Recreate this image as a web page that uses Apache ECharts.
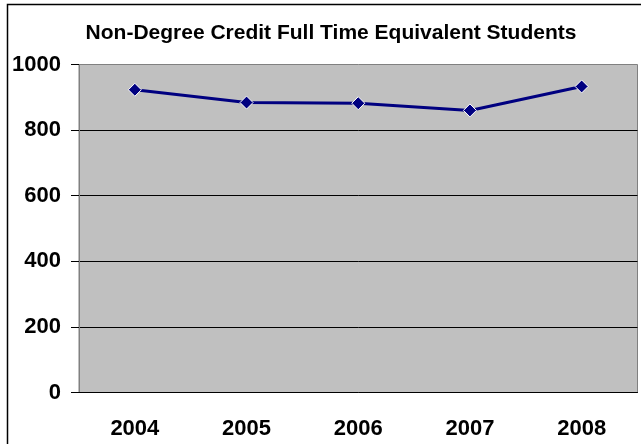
<!DOCTYPE html>
<html>
<head>
    <meta charset="UTF-8">
    <title>Non-Degree Credit FTE</title>
    <script src="https://cdn.jsdelivr.net/npm/echarts@6/dist/echarts.min.js"></script>
    <style>
        html, body { margin: 0; padding: 0; background: #fff; }
        #chart { width: 641px; height: 444px; }
    </style>
</head>
<body>
    <div id="chart"></div>
    <script>
        // data
        const years = ['2004', '2005', '2006', '2007', '2008'];
        const fteStudents = [923, 884, 882, 860, 933];
        const yTicks = [0, 200, 400, 600, 800, 1000];

        const myChart = echarts.init(document.getElementById('chart'));

        const option = {
            backgroundColor: '#ffffff',
            animation: false,
            title: {
                text: 'Non-Degree Credit Full Time Equivalent Students',
                left: 326,
                textAlign: 'center',
                top: 17.5,
                textStyle: {
                    fontFamily: 'Liberation Sans, Arial, sans-serif',
                    fontWeight: 'bold',
                    fontSize: 21,
                    color: '#000'
                }
            },
            graphic: [{
                type: 'rect',
                shape: { x: 7.5, y: 4.5, width: 700, height: 500 },
                style: { fill: 'none', stroke: '#000', lineWidth: 1.5 },
                silent: true
            }],
            grid: {
                left: 79,
                top: 64.5,
                right: 3.5,
                bottom: 51.5,
                show: true,
                backgroundColor: '#c0c0c0',
                borderColor: '#808080',
                borderWidth: 1
            },
            xAxis: {
                type: 'category',
                data: years,
                boundaryGap: true,
                axisLine: { lineStyle: { color: '#000', width: 1 } },
                axisTick: { length: 8, lineStyle: { color: '#000' } },
                axisLabel: {
                    margin: 25,
                    fontFamily: 'Liberation Sans, Arial, sans-serif',
                    fontWeight: 'bold',
                    fontSize: 22,
                    color: '#000'
                }
            },
            yAxis: {
                type: 'value',
                min: yTicks[0],
                max: yTicks[yTicks.length - 1],
                interval: 200,
                axisLine: { show: true, lineStyle: { color: '#808080' } },
                axisTick: { show: true, length: 8, lineStyle: { color: '#000' } },
                axisLabel: {
                    margin: 18,
                    formatter: v => String(v),
                    fontFamily: 'Liberation Sans, Arial, sans-serif',
                    fontWeight: 'bold',
                    fontSize: 22,
                    color: '#000'
                },
                splitLine: {
                    show: true,
                    showMinLine: false,
                    showMaxLine: false,
                    lineStyle: { color: '#000', width: 1 }
                }
            },
            series: [{
                type: 'line',
                data: fteStudents,
                symbol: 'diamond',
                symbolSize: 13,
                lineStyle: { color: '#000080', width: 3 },
                itemStyle: { color: '#000080', borderColor: '#ffffff', borderWidth: 1 }
            }]
        };

        myChart.setOption(option);
    </script>
</body>
</html>
